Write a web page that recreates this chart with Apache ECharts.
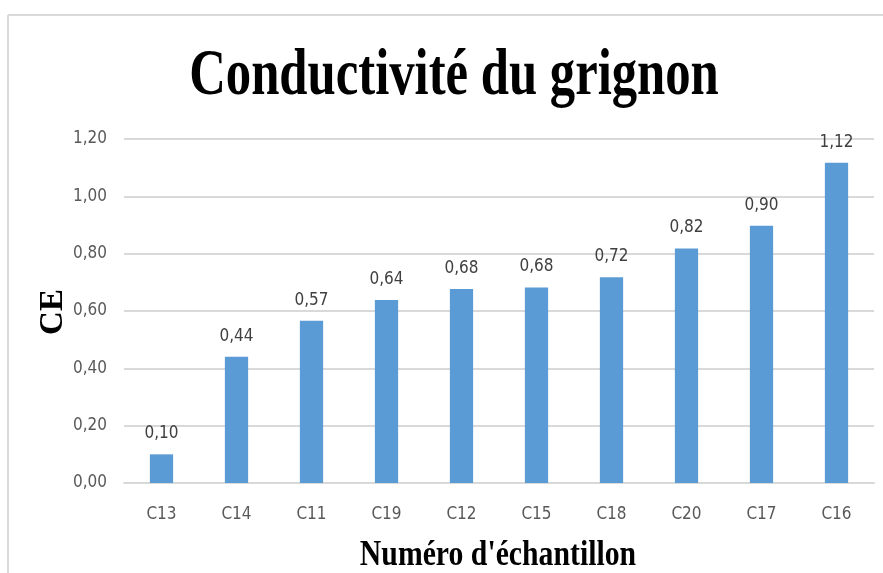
<!DOCTYPE html>
<html>
<head>
<meta charset="utf-8">
<script src="https://cdn.jsdelivr.net/npm/echarts@6/dist/echarts.min.js"></script>
<style>
html, body { margin: 0; padding: 0; background: #fff; }
#chart { width: 883px; height: 573px; }
</style>
</head>
<body>
<div id="chart"></div>
<script>
// échantillons, dans l'ordre du graphique
const categories = ["C13", "C14", "C11", "C19", "C12", "C15", "C18", "C20", "C17", "C16"];
// conductivité (CE)
const ceValues = [0.10, 0.44, 0.566, 0.638, 0.677, 0.682, 0.718, 0.818, 0.897, 1.117];
const yTicks = [0, 0.2, 0.4, 0.6, 0.8, 1.0, 1.2];

const fmt = v => v.toFixed(2).replace(".", ",");
const labelFont = "'DejaVu Sans Condensed', 'DejaVu Sans', sans-serif";
const serif = "'Liberation Serif', 'DejaVu Serif', serif";

const myChart = echarts.init(document.getElementById("chart"));

let option = {
	animation: false,
	backgroundColor: "#fff",
	graphic: [
		// cadre du graphique
		{ type: "line", shape: { x1: 8, y1: 15, x2: 883, y2: 15 }, style: { stroke: "#d9d9d9", lineWidth: 2 } },
		{ type: "line", shape: { x1: 8, y1: 15, x2: 8, y2: 573 }, style: { stroke: "#d9d9d9", lineWidth: 2 } },
		{
			type: "text",
			x: 454, y: 45,
			scaleX: 0.78,
			style: {
				text: "Conductivité du grignon",
				font: "bold 65px " + serif,
				fill: "#000",
				align: "center",
				verticalAlign: "top",
			},
		},
		{
			type: "text",
			x: 498, y: 538,
			scaleX: 0.85,
			style: {
				text: "Numéro d'échantillon",
				font: "bold 35px " + serif,
				fill: "#000",
				align: "center",
				verticalAlign: "top",
			},
		},
		{
			type: "text",
			x: 37, y: 312,
			rotation: Math.PI / 2,
			style: {
				text: "CE",
				font: "bold 33px " + serif,
				fill: "#000",
				align: "center",
				verticalAlign: "top",
			},
		},
	],
	grid: {
		left: 124,
		right: 9,
		top: 139,
		bottom: 90,
		containLabel: false,
	},
	xAxis: {
		type: "category",
		data: categories,
		axisTick: { show: false },
		axisLine: { lineStyle: { color: "#d9d9d9", width: 2 } },
		axisLabel: {
			color: "#595959",
			fontSize: 17,
			fontFamily: labelFont,
			margin: 23,
		},
	},
	yAxis: {
		type: "value",
		min: 0,
		max: 1.2,
		interval: 0.2,
		axisTick: { show: false },
		axisLine: { show: false },
		axisLabel: {
			color: "#595959",
			fontSize: 17,
			fontFamily: labelFont,
			margin: 17,
			formatter: v => fmt(v),
		},
		splitLine: { lineStyle: { color: "#d9d9d9", width: 2 } },
	},
	series: [
		{
			type: "bar",
			data: ceValues,
			barWidth: "31%",
			itemStyle: { color: "#5b9bd5" },
			label: {
				show: true,
				position: "top",
				distance: 12,
				color: "#404040",
				fontSize: 17,
				fontFamily: labelFont,
				formatter: p => fmt(p.value),
			},
		},
	],
};
myChart.setOption(option);
</script>
</body>
</html>
